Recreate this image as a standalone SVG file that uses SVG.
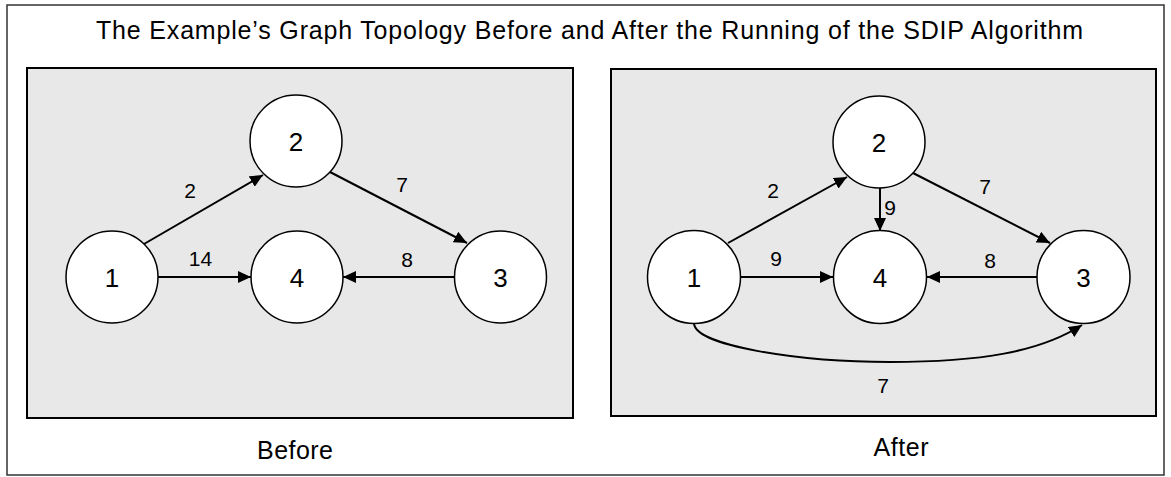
<svg xmlns="http://www.w3.org/2000/svg" width="1171" height="477" viewBox="0 0 1171 477">
<style>
.frame{fill:#ffffff;stroke:#333333;stroke-width:1.5}
.panel{fill:#e8e8e8;stroke:#000000;stroke-width:2}
.node{fill:#ffffff;stroke:#000000;stroke-width:1.5}
.nlabel{font-family:"Liberation Sans",Arial,sans-serif;font-size:26px;text-anchor:middle;fill:#000}
.elabel{font-family:"Liberation Sans",Arial,sans-serif;font-size:21px;text-anchor:middle;fill:#000}
.title{font-family:"Liberation Sans",Arial,sans-serif;font-size:25px;text-anchor:middle;fill:#000}
.edge{fill:none;stroke:#000000;stroke-width:2}
</style>
<defs>
<marker id="arr" markerUnits="userSpaceOnUse" markerWidth="14" markerHeight="12" refX="13" refY="6" orient="auto">
<path d="M0,0 L13,6 L0,12 z" fill="#000"/>
</marker>
</defs>
<rect class="frame" x="7" y="5" width="1157" height="470"/>
<text class="title" x="589.5" y="38.5" textLength="987" lengthAdjust="spacing">The Example’s Graph Topology Before and After the Running of the SDIP Algorithm</text>
<g id="panel-before">
<rect class="panel" x="27" y="68" width="546" height="350"/>
<text class="title" x="295" y="458.5" textLength="76" lengthAdjust="spacing">Before</text>
</g>
<g id="panel-after">
<rect class="panel" x="611" y="69" width="545" height="347"/>
<text class="title" x="901" y="456" textLength="55" lengthAdjust="spacing">After</text>
</g>
<g id="connectors">
<line class="edge" x1="144" y1="244" x2="263" y2="175" marker-end="url(#arr)"/>
<line class="edge" x1="158" y1="277" x2="251" y2="277" marker-end="url(#arr)"/>
<line class="edge" x1="330" y1="172" x2="467" y2="243" marker-end="url(#arr)"/>
<line class="edge" x1="454" y1="277" x2="343" y2="277" marker-end="url(#arr)"/>
<line class="edge" x1="728" y1="243" x2="847" y2="177" marker-end="url(#arr)"/>
<line class="edge" x1="880" y1="188" x2="880" y2="231" marker-end="url(#arr)"/>
<line class="edge" x1="741" y1="277" x2="833" y2="277" marker-end="url(#arr)"/>
<line class="edge" x1="913" y1="173" x2="1050" y2="243" marker-end="url(#arr)"/>
<line class="edge" x1="1037" y1="277" x2="927" y2="277" marker-end="url(#arr)"/>
<path class="edge" d="M694,323 C694,346 800,362 890,362 C980,362 1040,352 1082,325" marker-end="url(#arr)"/>
<text class="elabel" x="190" y="198">2</text>
<text class="elabel" x="200.5" y="266">14</text>
<text class="elabel" x="402" y="192">7</text>
<text class="elabel" x="407" y="267">8</text>
<text class="elabel" x="773" y="198">2</text>
<text class="elabel" x="890" y="215">9</text>
<text class="elabel" x="776" y="266">9</text>
<text class="elabel" x="985" y="194">7</text>
<text class="elabel" x="990" y="268">8</text>
<text class="elabel" x="883" y="393">7</text>
</g>
<g id="b-node1"><circle class="node" cx="112" cy="277" r="46"/><text class="nlabel" x="112" y="286.5">1</text></g>
<g id="b-node2"><circle class="node" cx="296" cy="141" r="46"/><text class="nlabel" x="296" y="150.5">2</text></g>
<g id="b-node3"><circle class="node" cx="500.5" cy="277" r="46"/><text class="nlabel" x="500.5" y="286.5">3</text></g>
<g id="b-node4"><circle class="node" cx="297" cy="277" r="46"/><text class="nlabel" x="297" y="286.5">4</text></g>
<g id="a-node1"><circle class="node" cx="694" cy="277" r="46.5"/><text class="nlabel" x="694" y="286.5">1</text></g>
<g id="a-node2"><circle class="node" cx="879" cy="142" r="46"/><text class="nlabel" x="879" y="151.5">2</text></g>
<g id="a-node3"><circle class="node" cx="1083.5" cy="277" r="46.5"/><text class="nlabel" x="1083.5" y="286.5">3</text></g>
<g id="a-node4"><circle class="node" cx="880" cy="277" r="46.5"/><text class="nlabel" x="880" y="286.5">4</text></g>
</svg>
